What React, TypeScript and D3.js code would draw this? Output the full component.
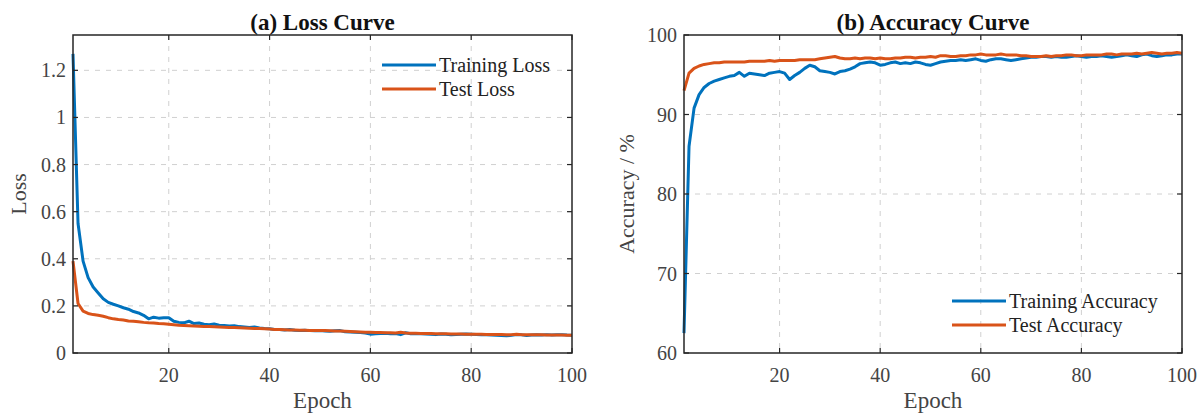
import React from "react";
import * as d3 from "d3";

const epochs = d3.range(1, 101);
const trainLoss = [1.27, 0.55, 0.39, 0.32, 0.28, 0.255, 0.23, 0.215, 0.207, 0.2, 0.192, 0.186, 0.176, 0.17, 0.16, 0.145, 0.152, 0.148, 0.15, 0.15, 0.135, 0.13, 0.128, 0.135, 0.125, 0.127, 0.122, 0.12, 0.123, 0.118, 0.117, 0.115, 0.116, 0.112, 0.11, 0.108, 0.11, 0.106, 0.104, 0.103, 0.1, 0.1, 0.098, 0.1, 0.097, 0.096, 0.097, 0.095, 0.094, 0.095, 0.093, 0.092, 0.094, 0.095, 0.09, 0.089, 0.088, 0.087, 0.085, 0.08, 0.082, 0.083, 0.084, 0.082, 0.083, 0.078, 0.086, 0.082, 0.083, 0.082, 0.081, 0.08, 0.078, 0.081, 0.08, 0.077, 0.079, 0.08, 0.081, 0.08, 0.079, 0.078, 0.077, 0.076, 0.075, 0.074, 0.073, 0.075, 0.078, 0.077, 0.074, 0.076, 0.077, 0.076, 0.078, 0.076, 0.077, 0.078, 0.076, 0.075];
const testLoss = [0.39, 0.21, 0.178, 0.168, 0.163, 0.16, 0.156, 0.15, 0.145, 0.142, 0.14, 0.136, 0.135, 0.133, 0.13, 0.128, 0.127, 0.125, 0.124, 0.122, 0.12, 0.118, 0.117, 0.116, 0.115, 0.114, 0.113, 0.112, 0.111, 0.11, 0.109, 0.108, 0.108, 0.107, 0.106, 0.105, 0.104, 0.104, 0.103, 0.102, 0.1, 0.1, 0.099, 0.098, 0.098, 0.097, 0.097, 0.096, 0.096, 0.095, 0.095, 0.094, 0.093, 0.093, 0.092, 0.091, 0.09, 0.089, 0.088, 0.088, 0.087, 0.087, 0.086, 0.086, 0.085, 0.088, 0.085, 0.084, 0.084, 0.083, 0.083, 0.083, 0.082, 0.082, 0.082, 0.081, 0.081, 0.081, 0.08, 0.08, 0.08, 0.08, 0.079, 0.079, 0.079, 0.079, 0.078, 0.078, 0.08, 0.078, 0.077, 0.077, 0.077, 0.077, 0.076, 0.076, 0.076, 0.076, 0.075, 0.075];
const trainAcc = [62.5, 86, 90.8, 92.5, 93.4, 93.9, 94.2, 94.4, 94.6, 94.8, 94.9, 95.3, 94.8, 95.2, 95.1, 95.0, 94.9, 95.2, 95.3, 95.4, 95.2, 94.4, 94.9, 95.3, 95.8, 96.2, 96.0, 95.5, 95.4, 95.3, 95.1, 95.4, 95.5, 95.7, 96.0, 96.4, 96.5, 96.6, 96.5, 96.2, 96.3, 96.5, 96.6, 96.4, 96.5, 96.4, 96.6, 96.5, 96.3, 96.2, 96.4, 96.6, 96.7, 96.8, 96.8, 96.9, 96.8, 96.9, 97.0, 96.8, 96.7, 96.9, 97.0, 97.0, 96.9, 96.8, 96.9, 97.0, 97.1, 97.2, 97.2, 97.3, 97.3, 97.2, 97.3, 97.2, 97.2, 97.3, 97.4, 97.3, 97.2, 97.3, 97.3, 97.4, 97.3, 97.2, 97.3, 97.4, 97.5, 97.4, 97.3, 97.5, 97.6, 97.4, 97.3, 97.4, 97.5, 97.5, 97.6, 97.6];
const testAcc = [93.0, 95.2, 95.8, 96.1, 96.3, 96.4, 96.5, 96.5, 96.6, 96.6, 96.6, 96.6, 96.6, 96.7, 96.7, 96.7, 96.7, 96.8, 96.7, 96.8, 96.8, 96.8, 96.8, 96.9, 96.9, 96.9, 96.9, 97.0, 97.1, 97.2, 97.3, 97.1, 97.0, 97.0, 97.1, 97.0, 97.1, 97.1, 97.0, 97.1, 97.0, 97.0, 97.1, 97.1, 97.2, 97.2, 97.1, 97.2, 97.2, 97.3, 97.2, 97.4, 97.4, 97.3, 97.3, 97.4, 97.4, 97.5, 97.5, 97.6, 97.5, 97.5, 97.5, 97.6, 97.5, 97.5, 97.5, 97.4, 97.4, 97.3, 97.3, 97.3, 97.4, 97.3, 97.4, 97.4, 97.5, 97.5, 97.4, 97.4, 97.5, 97.5, 97.5, 97.5, 97.6, 97.6, 97.5, 97.6, 97.6, 97.6, 97.7, 97.6, 97.7, 97.8, 97.7, 97.6, 97.7, 97.7, 97.8, 97.7];

const xTicks = [20, 40, 60, 80, 100];
const lossTicks = [0, 0.2, 0.4, 0.6, 0.8, 1, 1.2];
const accTicks = [60, 70, 80, 90, 100];

const BLUE = "#0072BD";
const ORANGE = "#D95319";
const FONT = "'Liberation Serif', 'Times New Roman', serif";

type PanelProps = {
  left: number; right: number; top: number; bottom: number;
  yDomain: [number, number]; yTicks: number[];
  s1: number[]; s2: number[]; n1: string; n2: string;
  title: string; yLabel: string; yLabelX: number;
  legendX: number; legendY: number;
};

function Panel(p: PanelProps) {
  const x = d3.scaleLinear().domain([1, 100]).range([p.left, p.right]);
  const y = d3.scaleLinear().domain(p.yDomain).range([p.bottom, p.top]);
  const line = d3.line<number>().x((_, i) => x(epochs[i])).y((d) => y(d));
  const cx = (p.left + p.right) / 2;
  const axisCol = "#262626";
  const tickCol = "#444";
  return (
    <g>
      {xTicks.filter((t) => t < 100).map((t) => (
        <line key={"gx" + t} x1={x(t)} x2={x(t)} y1={p.top} y2={p.bottom} stroke="#d0d0d0" strokeDasharray="5,6" strokeWidth={1} />
      ))}
      {p.yTicks.filter((t) => y(t) > p.top + 1 && y(t) < p.bottom - 1).map((t) => (
        <line key={"gy" + t} x1={p.left} x2={p.right} y1={y(t)} y2={y(t)} stroke="#d0d0d0" strokeDasharray="5,6" strokeWidth={1} />
      ))}
      <path d={line(p.s1) || ""} fill="none" stroke={BLUE} strokeWidth={3} strokeLinejoin="round" />
      <path d={line(p.s2) || ""} fill="none" stroke={ORANGE} strokeWidth={3} strokeLinejoin="round" />
      <rect x={p.left} y={p.top} width={p.right - p.left} height={p.bottom - p.top} fill="none" stroke={axisCol} strokeWidth={1.5} />
      {xTicks.map((t) => (
        <g key={"tx" + t}>
          <line x1={x(t)} x2={x(t)} y1={p.bottom} y2={p.bottom - 5} stroke={axisCol} strokeWidth={1.2} />
          <line x1={x(t)} x2={x(t)} y1={p.top} y2={p.top + 5} stroke={axisCol} strokeWidth={1.2} />
          <text x={x(t)} y={p.bottom + 29} textAnchor="middle" fontFamily={FONT} fontSize={20} fill={tickCol}>{t}</text>
        </g>
      ))}
      {p.yTicks.map((t) => (
        <g key={"ty" + t}>
          <line x1={p.left} x2={p.left + 5} y1={y(t)} y2={y(t)} stroke={axisCol} strokeWidth={1.2} />
          <line x1={p.right} x2={p.right - 5} y1={y(t)} y2={y(t)} stroke={axisCol} strokeWidth={1.2} />
          <text x={p.left - 7} y={y(t) + 7} textAnchor="end" fontFamily={FONT} fontSize={20} fill={tickCol}>{t}</text>
        </g>
      ))}
      <text x={cx} y={p.top - 5} textAnchor="middle" fontFamily={FONT} fontSize={23} fontWeight="bold" fill="#111">{p.title}</text>
      <text x={cx} y={p.bottom + 55} textAnchor="middle" fontFamily={FONT} fontSize={23} fill={tickCol}>Epoch</text>
      <text transform={`translate(${p.yLabelX},${(p.top + p.bottom) / 2}) rotate(-90)`} textAnchor="middle" fontFamily={FONT} fontSize={22} fill={tickCol}>{p.yLabel}</text>
      <g>
        <line x1={p.legendX} x2={p.legendX + 54} y1={p.legendY} y2={p.legendY} stroke={BLUE} strokeWidth={3} />
        <text x={p.legendX + 57} y={p.legendY + 7} fontFamily={FONT} fontSize={20} fill="#222">{p.n1}</text>
        <line x1={p.legendX} x2={p.legendX + 54} y1={p.legendY + 24} y2={p.legendY + 24} stroke={ORANGE} strokeWidth={3} />
        <text x={p.legendX + 57} y={p.legendY + 31} fontFamily={FONT} fontSize={20} fill="#222">{p.n2}</text>
      </g>
    </g>
  );
}

export default function App() {
  return (
    <svg width={1200} height={414} style={{ position: "absolute", left: 0, top: 0, background: "#fff" }}>
      <rect width={1200} height={414} fill="#fff" />
      <Panel left={73} right={572} top={35} bottom={353} yDomain={[0, 1.35]} yTicks={lossTicks}
        s1={trainLoss} s2={testLoss} n1="Training Loss" n2="Test Loss" title="(a) Loss Curve"
        yLabel="Loss" yLabelX={26} legendX={382} legendY={65} />
      <Panel left={684} right={1182} top={35} bottom={353} yDomain={[60, 100]} yTicks={accTicks}
        s1={trainAcc} s2={testAcc} n1="Training Accuracy" n2="Test Accuracy" title="(b) Accuracy Curve"
        yLabel="Accuracy / %" yLabelX={634} legendX={952} legendY={301} />
    </svg>
  );
}
